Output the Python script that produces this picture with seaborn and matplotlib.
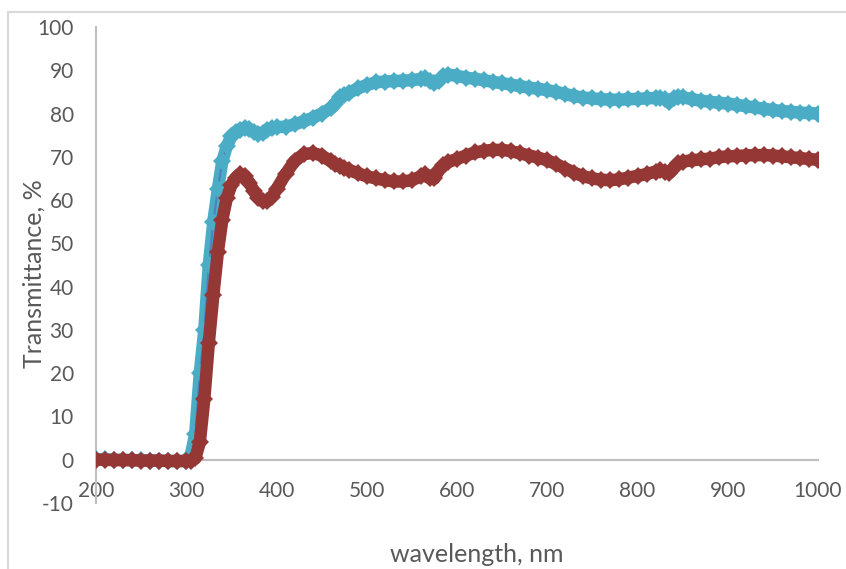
import numpy as np
import pandas as pd
import seaborn as sns
import matplotlib.pyplot as plt
from matplotlib.patches import Rectangle

# wavelength grid (nm) and transmittance (%)
wavelength = [200, 210, 220, 230, 240, 250, 260, 270, 280, 290, 300,
              305, 310, 315, 320, 325, 330, 335, 340, 345, 350, 355, 360,
              365, 370, 375, 380, 385, 390, 395, 400, 410, 420, 430, 440,
              450, 460, 465, 470, 475, 480, 490, 500, 510, 520, 530, 540,
              550, 560, 565, 570, 575, 580, 585, 590, 600, 610, 620, 630,
              640, 650, 660, 670, 680, 690, 700, 710, 720, 730, 740, 750,
              760, 770, 780, 790, 800, 810, 820, 825, 830, 835, 840, 845,
              850, 860, 870, 880, 890, 900, 910, 920, 930, 940, 950, 960,
              970, 980, 990, 1000]

film_a = [0.1, 0.1, 0.0, 0.0, -0.1, -0.1, -0.2, -0.2, -0.3, -0.3, -0.3,
          1.0, 6.0, 20.0, 30.0, 45.0, 55.0, 62.5, 69.0, 72.5, 74.7, 75.8, 76.3,
          76.6, 76.4, 75.8, 75.3, 75.6, 76.2, 76.6, 76.8, 77.0, 77.5, 78.2, 79.0,
          80.0, 81.2, 82.3, 83.8, 84.2, 84.8, 85.8, 86.6, 87.2, 87.4, 87.5, 87.6,
          87.7, 88.0, 88.2, 87.6, 87.0, 87.5, 88.7, 89.0, 88.7, 88.3, 88.0, 87.7,
          87.3, 87.0, 86.7, 86.3, 86.0, 85.7, 85.4, 85.0, 84.5, 84.0, 83.7, 83.5,
          83.3, 83.2, 83.2, 83.3, 83.4, 83.5, 83.6, 83.6, 83.4, 82.7, 83.5, 83.9,
          83.8, 83.3, 83.0, 82.7, 82.5, 82.3, 82.0, 81.7, 81.4, 81.1, 80.8, 80.6,
          80.4, 80.2, 80.1, 80.0]

film_b = [0.0, 0.0, -0.1, -0.1, -0.1, -0.2, -0.2, -0.2, -0.3, -0.3, -0.3,
          -0.2, 0.3, 4.0, 14.0, 27.0, 38.0, 48.0, 55.5, 60.5, 63.5, 65.2, 66.0,
          65.6, 64.0, 62.0, 60.5, 59.8, 59.8, 60.8, 62.5, 66.0, 69.0, 70.6, 70.9,
          70.3, 69.0, 68.4, 67.8, 67.4, 67.0, 66.2, 65.5, 65.0, 64.6, 64.3, 64.3,
          64.6, 65.5, 66.0, 65.0, 65.0, 67.0, 68.0, 68.8, 69.5, 70.3, 71.0, 71.4,
          71.6, 71.6, 71.3, 70.8, 70.3, 69.8, 69.2, 68.3, 67.3, 66.3, 65.5, 65.0,
          64.7, 64.6, 64.8, 65.2, 65.6, 66.0, 66.6, 67.0, 66.5, 66.2, 67.5, 68.5,
          68.9, 69.2, 69.4, 69.6, 69.9, 70.1, 70.2, 70.3, 70.4, 70.4, 70.3, 70.1,
          69.9, 69.7, 69.5, 69.3]

x_ticks = [200, 300, 400, 500, 600, 700, 800, 900, 1000]
y_ticks = [-10, 0, 10, 20, 30, 40, 50, 60, 70, 80, 90, 100]

df = pd.DataFrame({"wavelength": wavelength, "a": film_a, "b": film_b})

sns.set_style("white")
plt.rcParams['font.family'] = ['Lato', 'DejaVu Sans']
plt.rcParams['axes.unicode_minus'] = False
text_col = '#595959'
axis_col = '#BFBFBF'

fig = plt.figure(figsize=(8.46, 5.69), dpi=100)
ax = fig.add_axes([96 / 846, 66 / 569, 722 / 846, 476 / 569])

# series a: blue line with cyan diamonds (dense markers make a band)
sns.lineplot(data=df, x="wavelength", y="a", color='#4BACC6', linewidth=9,
             ax=ax, zorder=2)
sns.lineplot(data=df, x="wavelength", y="a", color='#4F81BD', linewidth=1.5,
             marker='D', markersize=9, markerfacecolor='#4BACC6',
             markeredgewidth=0, ax=ax, zorder=3)
# series b: dark red
sns.lineplot(data=df, x="wavelength", y="b", color='#953735', linewidth=9,
             ax=ax, zorder=4)
sns.lineplot(data=df, x="wavelength", y="b", color='#953735', linewidth=1.5,
             marker='D', markersize=9, markeredgewidth=0, ax=ax, zorder=5)

ax.set_xlim(200, 1000)
ax.set_ylim(-10, 100)
ax.set_xticks(x_ticks)
ax.set_yticks(y_ticks)
ax.set_xlabel("wavelength, nm", color=text_col, fontsize=18)
ax.set_ylabel("Transmittance, %", color=text_col, fontsize=18)
ax.xaxis.set_label_coords(0.527, -0.083)
ax.yaxis.set_label_coords(-0.07, 0.481)

for side in ['top', 'right']:
    ax.spines[side].set_visible(False)
ax.spines['bottom'].set_position(('data', 0))
for side in ['left', 'bottom']:
    ax.spines[side].set_color(axis_col)
    ax.spines[side].set_linewidth(1.5)
    ax.spines[side].set_zorder(1)

ax.tick_params(axis='both', length=0, labelsize=15, labelcolor=text_col)
ax.tick_params(axis='y', pad=16)
ax.tick_params(axis='x', pad=15)

# chart area border
fig.add_artist(Rectangle((8 / 846, -0.02), 1.05, 0.02 + 557 / 569,
                         transform=fig.transFigure, fill=False,
                         edgecolor='#D9D9D9', linewidth=1.5))

fig.savefig("out.png", dpi=100)
